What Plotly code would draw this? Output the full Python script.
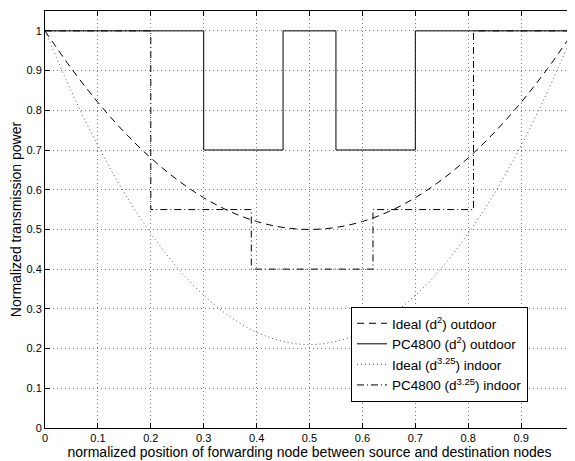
import plotly.graph_objects as go

x_ideal = [0, 0.05, 0.1, 0.15, 0.2, 0.25, 0.3, 0.35, 0.4, 0.45, 0.5,
           0.55, 0.6, 0.65, 0.7, 0.75, 0.8, 0.85, 0.9, 0.95, 1]
ideal_outdoor = [1, 0.905, 0.82, 0.745, 0.68, 0.625, 0.58, 0.545, 0.52, 0.505, 0.5,
                 0.505, 0.52, 0.545, 0.58, 0.625, 0.68, 0.745, 0.82, 0.905, 1]
ideal_indoor = [1, 0.847, 0.711, 0.592, 0.490, 0.404, 0.334, 0.280, 0.241, 0.218, 0.210,
                0.218, 0.241, 0.280, 0.334, 0.404, 0.490, 0.592, 0.711, 0.847, 1]
x_pc_outdoor = [0, 0.3, 0.45, 0.55, 0.7, 1]
pc_outdoor = [1, 0.7, 1, 0.7, 1, 1]
x_pc_indoor = [0, 0.2, 0.39, 0.62, 0.81, 1]
pc_indoor = [1, 0.55, 0.4, 0.55, 1, 1]
tick_vals = [0, 0.1, 0.2, 0.3, 0.4, 0.5, 0.6, 0.7, 0.8, 0.9, 1]
tick_text = ["0", "0.1", "0.2", "0.3", "0.4", "0.5", "0.6", "0.7", "0.8", "0.9", "1"]

fig = go.Figure()
fig.add_trace(go.Scatter(x=x_ideal, y=ideal_outdoor, mode="lines", line_shape="spline",
                         name="Ideal (d<sup>2</sup>) outdoor",
                         line=dict(color="black", width=1, dash="7px,5px")))
fig.add_trace(go.Scatter(x=x_pc_outdoor, y=pc_outdoor, mode="lines", line_shape="hv",
                         name="PC4800 (d<sup>2</sup>) outdoor",
                         line=dict(color="black", width=1)))
fig.add_trace(go.Scatter(x=x_ideal, y=ideal_indoor, mode="lines", line_shape="spline",
                         name="Ideal (d<sup>3.25</sup>) indoor",
                         line=dict(color="#555555", width=1, dash="1px,3px")))
fig.add_trace(go.Scatter(x=x_pc_indoor, y=pc_indoor, mode="lines", line_shape="hv",
                         name="PC4800 (d<sup>3.25</sup>) indoor",
                         line=dict(color="black", width=1, dash="7px,3px,1px,3px")))

axis_common = dict(showline=True, linecolor="black", linewidth=1, mirror="ticks",
                   ticks="inside", ticklen=5, tickcolor="black",
                   showgrid=True, gridcolor="#777777", griddash="1px,3px", gridwidth=1,
                   zeroline=False, tickfont=dict(size=11, color="black"),
                   automargin=False, ticklabeloverflow="allow")

# the page body adds an 8px offset, so the figure is sized/margined to compensate
fig.update_layout(
    width=567, height=453,
    margin=dict(l=37, r=1, t=3, b=33),
    paper_bgcolor="white", plot_bgcolor="white",
    font=dict(family="Liberation Sans, Arial, sans-serif", size=13, color="black"),
    xaxis=dict(range=[0, 1], tickmode="array", tickvals=tick_vals, ticktext=tick_text,
               title=dict(text="normalized position of forwarding node between source and destination nodes",
                          font=dict(size=14), standoff=0),
               **axis_common),
    yaxis=dict(range=[0, 1.05], tickmode="array", tickvals=tick_vals, ticktext=tick_text,
               title=dict(text="Normalized transmission power", font=dict(size=14), standoff=2),
               **axis_common),
    legend=dict(x=(351 - 45) / 529, y=(428 - 307) / 417, xanchor="left", yanchor="top",
                bordercolor="black", borderwidth=1, bgcolor="white",
                font=dict(size=13.5), tracegroupgap=0, itemwidth=30),
    showlegend=True,
)

fig.write_html("out.html")
